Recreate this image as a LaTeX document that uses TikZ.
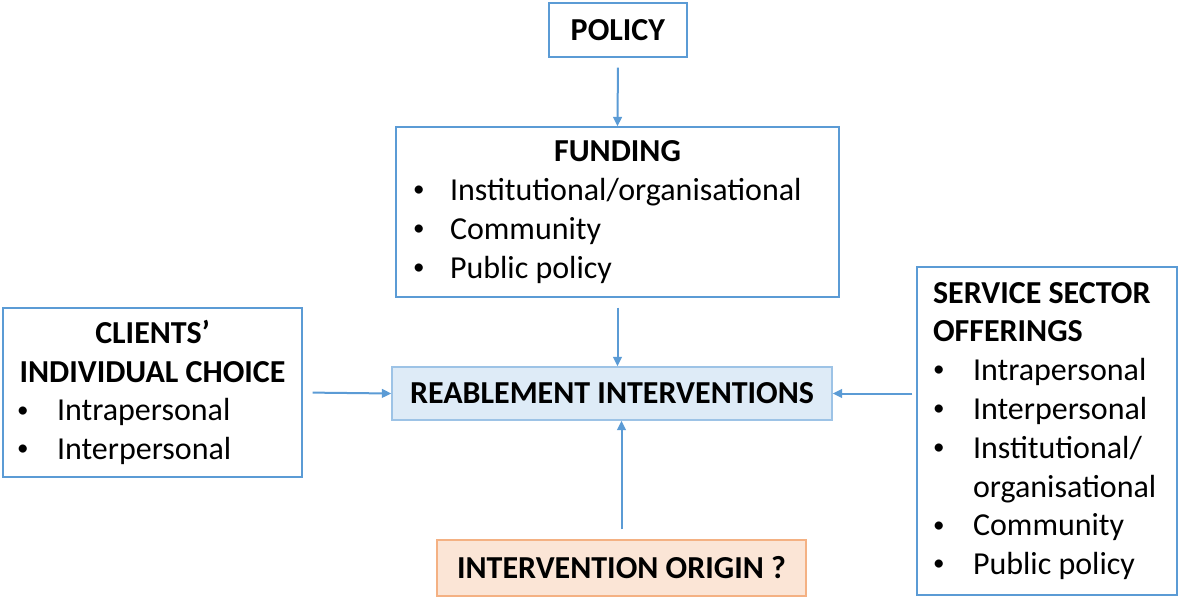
\documentclass[tikz,border=0pt]{standalone}
\usepackage{fontspec}
\setmainfont{Carlito}
\usetikzlibrary{arrows.meta}

\definecolor{edgeblue}{HTML}{5B9BD5}
\definecolor{reablefill}{HTML}{DEEBF7}
\definecolor{reableedge}{HTML}{9DC3E6}
\definecolor{originfill}{HTML}{FBE5D6}
\definecolor{originedge}{HTML}{F4B183}

\newcommand{\dotmark}{\raisebox{0.12em}{\scalebox{0.72}{\textbullet}}}
\newcommand{\bul}[2][28pt]{\makebox[#1][l]{\dotmark}#2\par}
\newcommand{\head}[1]{{\centering\textbf{#1}\par}}

\begin{document}
\begin{tikzpicture}[x=0.75pt, y=-0.75pt,
  every node/.style={font=\fontsize{24pt}{29.1pt}\selectfont},
  infobox/.style={draw=edgeblue, line width=1.1pt, inner sep=0pt, align=flush left},
  flow/.style={draw=edgeblue, line width=1.5pt, -{Triangle[length=7pt, width=6.5pt]}}]
  \useasboundingbox (0,0) rectangle (1181,599);

  \node[infobox, minimum width=103.5pt, minimum height=40.5pt, align=center] (policy) at (618,30) {\textbf{POLICY}};
  \node[infobox, minimum width=332.25pt, minimum height=127.5pt, text width=306.75pt] (funding) at (617.5,212)
    {\head{FUNDING}\bul[27.75pt]{Institutional/organisational}\bul[27.75pt]{Community}\bul[27.75pt]{Public policy}};
  \node[infobox, minimum width=224.25pt, minimum height=126.75pt, text width=203.25pt] (clients) at (152.5,392.5)
    {\head{CLIENTS’}\head{INDIVIDUAL CHOICE}\bul[30pt]{Intrapersonal}\bul[30pt]{Interpersonal}};
  \node[infobox, minimum width=195pt, minimum height=246pt, text width=171pt] (service) at (1047,431)
    {\textbf{SERVICE SECTOR}\par\textbf{OFFERINGS}\par\bul[30pt]{Intrapersonal}\bul[30pt]{Interpersonal}%
     \bul[30pt]{Institutional/}\hspace*{30pt}organisational\par\bul[30pt]{Community}\bul[30pt]{Public policy}};
  \node[draw=reableedge, fill=reablefill, line width=1.1pt, minimum width=330pt, minimum height=39.75pt] (reable) at (612,393.5)
    {\textbf{REABLEMENT INTERVENTIONS}};
  \node[draw=originedge, fill=originfill, line width=1.1pt, minimum width=276.75pt, minimum height=42pt] (origin) at (621.5,568)
    {\textbf{INTERVENTION ORIGIN ?}};

  \draw[flow, shorten <=7.5pt] (policy.south) -- (funding.north);
  \draw[flow, shorten <=7.5pt] (funding.south) -- (funding.south |- reable.north);
  \draw[flow, shorten <=7.5pt] (clients.east) -- (reable.west);
  \draw[flow, shorten <=3pt] (service.west |- reable.east) -- (reable.east);
  \draw[flow, shorten <=7.5pt] (origin.north) -- (origin.north |- reable.south);
\end{tikzpicture}
\end{document}
